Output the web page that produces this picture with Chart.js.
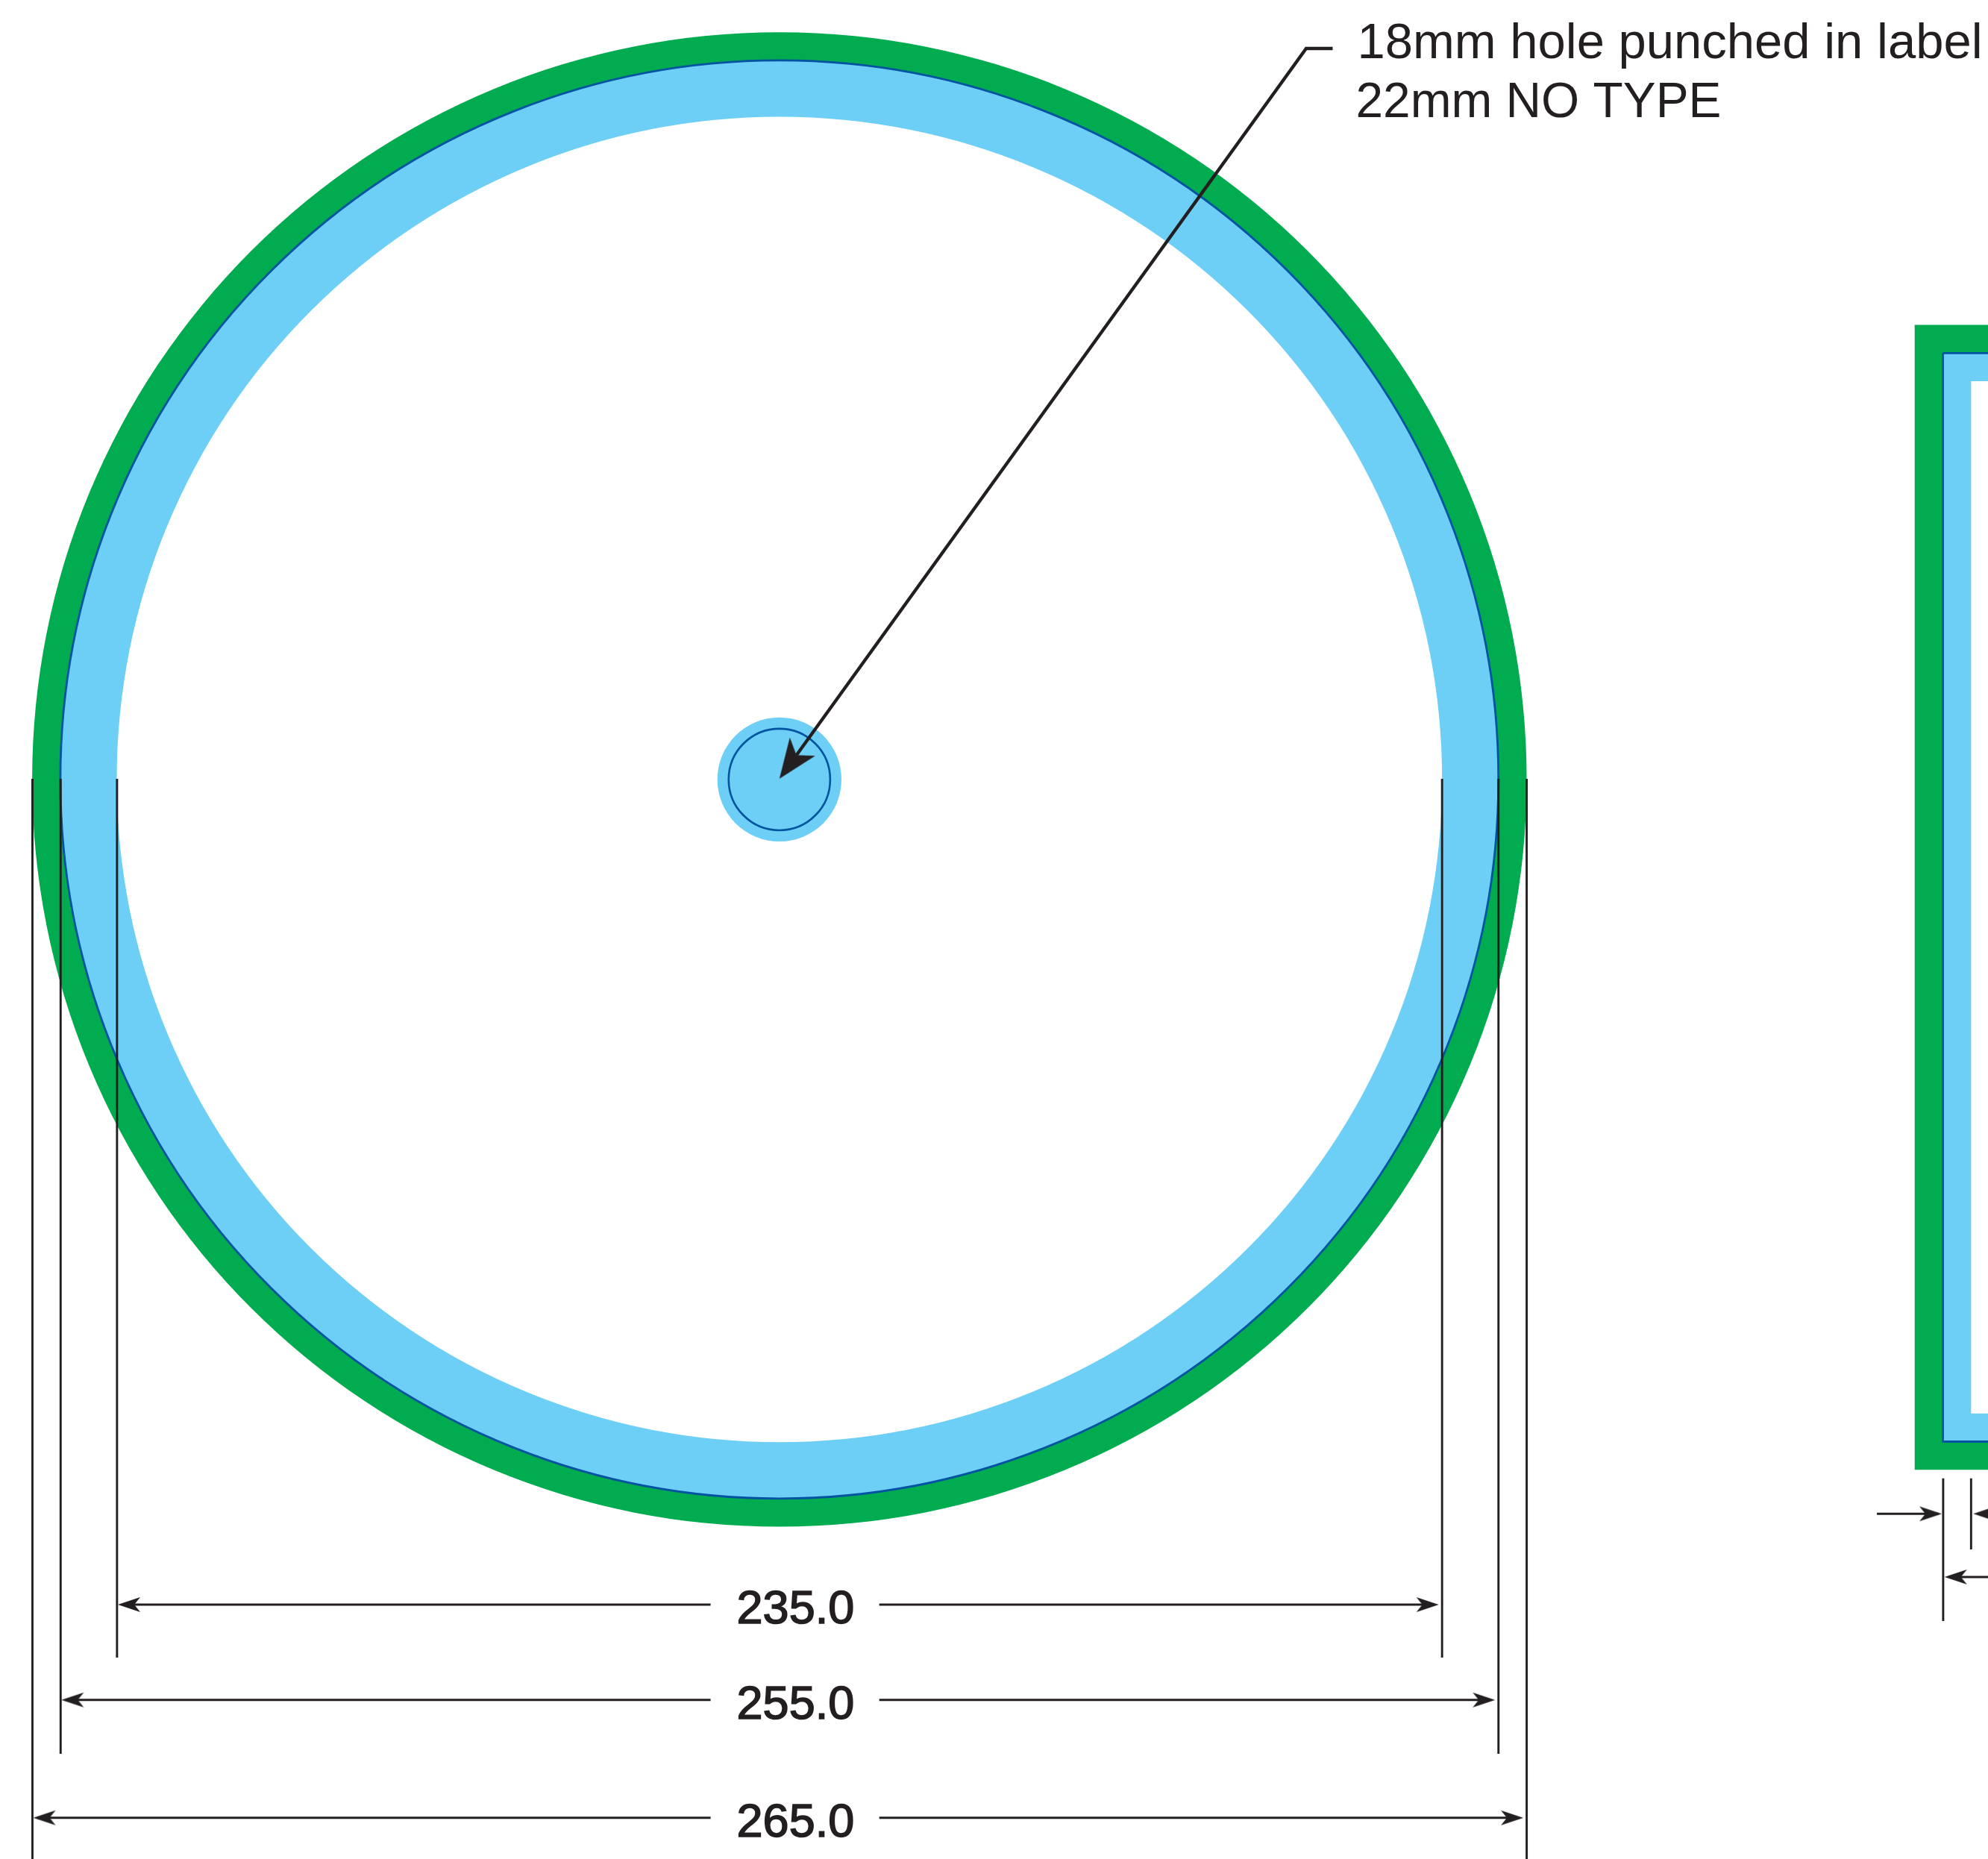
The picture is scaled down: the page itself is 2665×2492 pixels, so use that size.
<!DOCTYPE html>
<html><head><meta charset="utf-8">
<script src="https://cdn.jsdelivr.net/npm/chart.js@4/dist/chart.umd.min.js"></script>
<style>html,body{margin:0;padding:0;background:#fff}canvas{display:block}</style>
</head><body><canvas id="c" width="2665" height="2492"></canvas>
<script>
// All values in millimetres.
const discDiameters = [265, 255, 235];
const hubDiameters = [22, 18];
const dimensionLabels = ["235.0", "255.0", "265.0"];
const dimensionValues = [235, 255, 265];
const dimensionRows = [-146.3, -163.2, -184.1];
const extensionEnds = [-155.7, -172.75, -196];
const calloutLines = ["18mm hole punched in label", "22mm NO TYPE"];
const leaderTip = [0, 0.13];
const leaderPath = [[3, 4.29], [93.4, 129.6], [98.1, 129.6]];
const sideLeft = [201.3, 206.3, 211.3];
const sideTop = [80.6, 75.6, 70.6];
const sideBottom = [-122.4, -117.4, -112.4];

const GREEN = '#00ac4f', BLUE = '#6dcff6', NAVY = '#0053a0', INK = '#231f20', WHITE = '#ffffff';

function headCanvas(len, half, notch) {
  const c = document.createElement('canvas');
  c.width = len * 2 + 4; c.height = half * 2 + 4;
  const g = c.getContext('2d'), cx = c.width / 2, cy = c.height / 2;
  g.fillStyle = INK; g.beginPath();
  g.moveTo(cx, cy); g.lineTo(cx - len, cy - half); g.lineTo(cx - notch, cy); g.lineTo(cx - len, cy + half);
  g.closePath(); g.fill();
  return c;
}
const smallHead = headCanvas(30, 10, 22);
const bigHead = headCanvas(53, 21, 39);

const datasets = [];
const pxRadius = d => ctx => {
  const s = ctx.chart.scales.x;
  return s.getPixelForValue(d / 2) - s.getPixelForValue(0);
};
function disc(d, fill, stroke, sw) {
  datasets.push({ data: [{ x: 0, y: 0 }], showLine: false,
    pointRadius: pxRadius(d), pointBackgroundColor: fill,
    pointBorderColor: stroke || fill, pointBorderWidth: sw || 0, clip: false });
}
function line(pts, color, w) {
  datasets.push({ data: pts.map(p => ({ x: p[0], y: p[1] })), showLine: true, fill: false,
    borderColor: color, borderWidth: w, pointRadius: 0, tension: 0, borderCapStyle: 'butt', borderJoinStyle: 'miter' });
}
function box(l, t, b, fill, stroke, sw) {
  const r = 300;
  datasets.push({ data: [[l, t], [r, t], [r, b], [l, b], [l, t]].map(p => ({ x: p[0], y: p[1] })),
    showLine: true, fill: 'shape', backgroundColor: fill, borderColor: stroke || fill, borderWidth: sw || 0,
    pointRadius: 0, tension: 0, borderJoinStyle: 'miter' });
}
function head(x, y, deg, style) {
  datasets.push({ data: [{ x, y }], showLine: false, pointStyle: style || smallHead, pointRotation: deg, pointRadius: 10, clip: false });
}

// front view
disc(discDiameters[0], GREEN);
disc(discDiameters[1], BLUE, NAVY, 2.8);
disc(discDiameters[2], WHITE);
disc(hubDiameters[0], BLUE);
disc(hubDiameters[1], BLUE, NAVY, 2.6);

// side view
box(sideLeft[0], sideTop[0], sideBottom[0], GREEN);
box(sideLeft[1], sideTop[1], sideBottom[1], BLUE, NAVY, 2.8);
box(sideLeft[2], sideTop[2], sideBottom[2], WHITE);

// extension and dimension lines
const THIN = 2.9;
dimensionValues.forEach((d, i) => {
  const y = dimensionRows[i], r = d / 2;
  line([[-r + 0.05, 0.13], [-r + 0.05, extensionEnds[i]]], INK, THIN);
  line([[r, 0.13], [r, extensionEnds[i]]], INK, THIN);
  line([[-r + 1, y], [-12.2, y]], INK, THIN);
  line([[17.7, y], [r - 1.5, y]], INK, THIN);
  head(-r + 0.2, y, 180);
  head(r - 0.6, y, 0);
});

// side dimensions
line([[sideLeft[1] + 0.05, -123.9], [sideLeft[1] + 0.05, -149.2]], INK, THIN);
line([[sideLeft[2], -123.9], [sideLeft[2], -136.5]], INK, THIN);
line([[194.6, -130.2], [205.5, -130.2]], INK, THIN);
head(206.1, -130.2, 0);
line([[212.5, -130.2], [230, -130.2]], INK, THIN);
head(211.7, -130.2, 180);
line([[207.5, -141.4], [230, -141.4]], INK, THIN);
head(206.6, -141.4, 180);

// leader
line(leaderPath, INK, 4.4);
head(leaderTip[0], leaderTip[1], 125.8, bigHead);

datasets.forEach((d, i) => { d.order = datasets.length - i; });

const textPlugin = {
  id: 'texts',
  afterDatasetsDraw(chart) {
    const { ctx, scales: { x, y } } = chart;
    ctx.save();
    ctx.fillStyle = INK; ctx.strokeStyle = INK; ctx.textBaseline = 'alphabetic';
    ctx.textAlign = 'left';
    const tx = x.getPixelForValue(98.1) + 33;
    const ty = y.getPixelForValue(129.6);
    calloutLines.forEach((s, i) => {
      ctx.font = (i === 0 ? 67 : 65.8) + 'px "Liberation Sans"';
      ctx.fillText(s, tx - i * 2, ty + 13 + i * 79);
    });
    ctx.textAlign = 'center';
    ctx.font = '63px "Liberation Sans"';
    ctx.lineWidth = 1.6;
    dimensionLabels.forEach((s, i) => {
      const px = x.getPixelForValue(2.85), py = y.getPixelForValue(dimensionRows[i]) + 25;
      ctx.fillText(s, px, py); ctx.strokeText(s, px, py);
    });
    ctx.restore();
  }
};

new Chart(document.getElementById('c'), {
  type: 'scatter',
  data: { datasets },
  plugins: [textPlugin],
  options: {
    responsive: false, devicePixelRatio: 1, animation: false, events: [],
    layout: { padding: 0, autoPadding: false },
    plugins: { legend: { display: false }, tooltip: { enabled: false }, title: { display: false } },
    scales: {
      x: { type: 'linear', display: false, min: -138.2, max: 214.3 },
      y: { type: 'linear', display: false, min: -191.4, max: 138.2 }
    }
  }
});
</script></body></html>
